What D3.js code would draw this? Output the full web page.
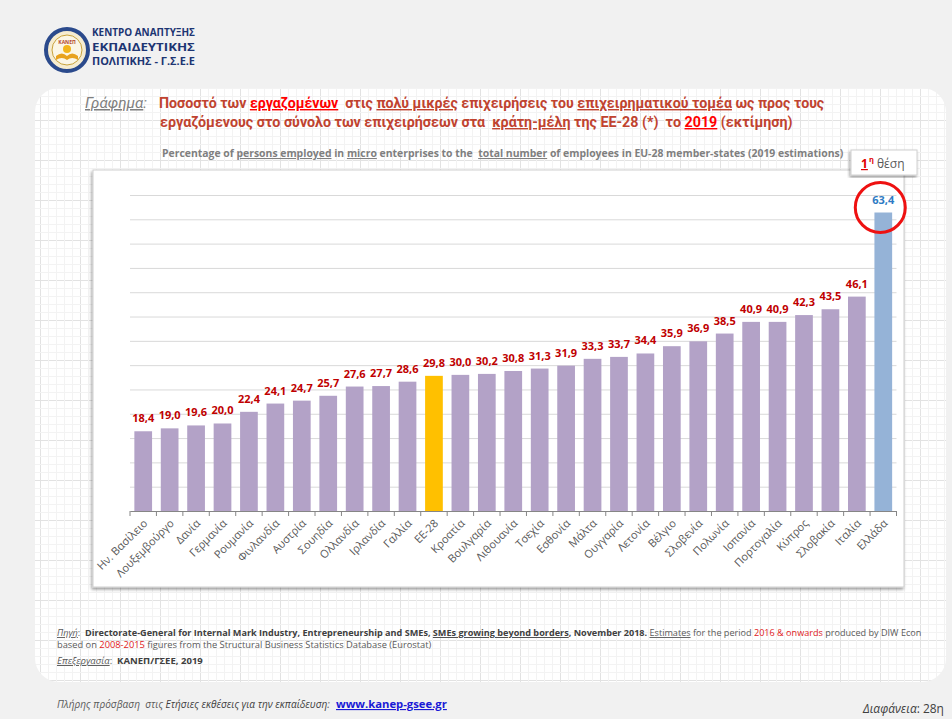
<!DOCTYPE html>
<meta charset="utf-8">
<script src="https://cdnjs.cloudflare.com/ajax/libs/d3/7.8.5/d3.min.js"></script>
<style>
body { margin: 0; background: #f1f1f1; }
svg { display: block; font-family: "Open Sans", "Noto Sans", sans-serif; }
</style>
<body>
<script>

var countries = ["Ην. Βασίλειο", "Λουξεμβούργο", "Δανία", "Γερμανία", "Ρουμανία", "Φινλανδία",
                 "Αυστρία", "Σουηδία", "Ολλανδία", "Ιρλανδία", "Γαλλία", "ΕΕ-28", "Κροατία",
                 "Βουλγαρία", "Λιθουανία", "Τσεχία", "Εσθονία", "Μάλτα", "Ουγγαρία", "Λετονία",
                 "Βέλγιο", "Σλοβενία", "Πολωνία", "Ισπανία", "Πορτογαλία", "Κύπρος", "Σλοβακία",
                 "Ιταλία", "Ελλάδα"];
var shares = [18.4, 19.0, 19.6, 20.0, 22.4, 24.1, 24.7, 25.7, 27.6, 27.7, 28.6, 29.8, 30.0,
              30.2, 30.8, 31.3, 31.9, 33.3, 33.7, 34.4, 35.9, 36.9, 38.5, 40.9, 40.9, 42.3, 43.5,
              46.1, 63.4];
var gridValues = [2, 7, 12, 17, 22, 27, 32, 37, 42, 47, 52, 57, 62, 67];

var euKey = "ΕΕ-28", greeceKey = "Ελλάδα";

var width = 952, height = 719;

var svg = d3.select("body").append("svg")
    .attr("width", width)
    .attr("height", height);

var defs = svg.append("defs");

// graph paper look of the slide panel
var pat = defs.append("pattern")
    .attr("id", "paper")
    .attr("patternUnits", "userSpaceOnUse")
    .attr("width", 40).attr("height", 40);
pat.append("rect").attr("width", 40).attr("height", 40).attr("fill", "#fff");
d3.range(0, 40, 8).forEach(function(p) {
  var c = p === 0 ? "#e2e2e2" : "#f3f3f3";
  pat.append("line").attr("x1", p + 0.5).attr("x2", p + 0.5).attr("y1", 0).attr("y2", 40).attr("stroke", c);
  pat.append("line").attr("y1", p + 0.5).attr("y2", p + 0.5).attr("x1", 0).attr("x2", 40).attr("stroke", c);
});

var shadow = defs.append("filter").attr("id", "shadow")
    .attr("x", "-5%").attr("y", "-5%").attr("width", "110%").attr("height", "115%");
shadow.append("feDropShadow")
    .attr("dx", -1).attr("dy", 2).attr("stdDeviation", 1.5)
    .attr("flood-color", "#000").attr("flood-opacity", 0.4);

// panel + chart box
svg.append("rect")
    .attr("x", 35).attr("y", 88).attr("width", 911).attr("height", 594).attr("rx", 24)
    .attr("fill", "url(#paper)");

svg.append("rect")
    .attr("x", 93).attr("y", 170).attr("width", 811).attr("height", 417)
    .attr("fill", "#fff").attr("stroke", "#cfcfcf")
    .attr("filter", "url(#shadow)");

// logo
var logo = svg.append("g").attr("transform", "translate(67,50)");
logo.append("circle").attr("r", 21).attr("fill", "#f6ecd0").attr("stroke", "#2b4a8c").attr("stroke-width", 4);
logo.append("circle").attr("r", 15).attr("fill", "#fbf6e6").attr("stroke", "#c8a23c").attr("stroke-width", 1);
logo.append("path").attr("d", "M-11,6 Q-5,1 0,6 Q5,1 11,6 L11,10 Q5,6 0,10 Q-5,6 -11,10 Z").attr("fill", "#e8a21e");
logo.append("circle").attr("cy", -1).attr("r", 4).attr("fill", "#f2b51c");
logo.append("text").attr("y", -6).attr("text-anchor", "middle").style("font-size", "5px")
    .attr("fill", "#b3472c").style("font-weight", "bold").text("ΚΑΝΕΠ");

var logoText = ["ΚΕΝΤΡΟ ΑΝΑΠΤΥΞΗΣ", "ΕΚΠΑΙΔΕΥΤΙΚΗΣ", "ΠΟΛΙΤΙΚΗΣ - Γ.Σ.Ε.Ε"];
logoText.forEach(function(t, i) {
  svg.append("text")
      .attr("x", 92).attr("y", 36 + i * 14.5)
      .attr("textLength", 103).attr("lengthAdjust", "spacingAndGlyphs")
      .style("font-size", "11px").style("font-weight", "bold")
      .attr("fill", "#1d3573")
      .text(t);
});

// rich text helper: parts are [text, flags, colour]
// the font size is scaled so the line spans the wanted width
function rich(x0, y0, size, len, color, parts, family) {
  var t = svg.append("text")
      .attr("x", x0).attr("y", y0)
      .style("font-size", size + "px")
      .style("white-space", "pre")
      .attr("fill", color);
  if (family) t.style("font-family", family);
  parts.forEach(function(p) {
    var s = t.append("tspan").text(p[0]);
    var f = p[1] || "";
    if (f.indexOf("b") >= 0) s.style("font-weight", "bold");
    if (f.indexOf("i") >= 0) s.style("font-style", "italic");
    if (f.indexOf("u") >= 0) s.style("text-decoration", "underline");
    if (p[2]) s.attr("fill", p[2]);
  });
  if (len) {
    var natural = t.node().getComputedTextLength();
    t.style("font-size", (size * len / natural) + "px");
  }
  return t;
}

var titleCol = "#c0432f", hot = "#ff0000";
var titleFont = "Roboto, 'Open Sans', sans-serif";

rich(85, 108, 14, 62, "#7f7f7f", [["Γράφημα", "iu"], [":", "i"]], titleFont);
rich(159, 108, 14, 666, titleCol, [
  ["Ποσοστό των ", "b"], ["εργαζομένων", "bu", hot], ["  στις ", "b"],
  ["πολύ μικρές", "bu"], [" επιχειρήσεις του ", "b"], ["επιχειρηματικού τομέα", "bu"],
  [" ως προς τους", "b"]
], titleFont);
rich(160, 127, 14, 633, titleCol, [
  ["εργαζόμενους στο σύνολο των επιχειρήσεων στα  ", "b"], ["κράτη-μέλη", "bu"],
  [" της ΕΕ-28 (*)  το ", "b"], ["2019", "bu", hot], [" (εκτίμηση)", "b"]
], titleFont);

// sized so it ends just before the callout box
rich(162, 157, 11.5, 682, "#7f7f7f", [
  ["Percentage of ", "b"], ["persons employed", "bu"], [" in ", "b"], ["micro", "bu"],
  [" enterprises to the  ", "b"], ["total number", "bu"],
  [" of employees in EU-28 member-states (2019 estimations)", "b"]
]);

// scales
var x = d3.scaleBand().domain(countries).range([130, 896.5]).paddingInner(0.33).paddingOuter(0.165);
var y = d3.scaleLinear().domain([gridValues[0], gridValues[gridValues.length - 1]]).range([511, 195]);

// gridlines
var grid = svg.append("g")
    .attr("transform", "translate(" + x.range()[0] + ",0)")
    .call(d3.axisLeft(y).tickValues(gridValues).tickSize(-(x.range()[1] - x.range()[0])).tickFormat(""));
grid.select(".domain").remove();
grid.selectAll("line").attr("stroke", "#d9d9d9");

// bars
function barColor(name) {
  if (name === euKey) return "#ffc000";
  if (name === greeceKey) return "#95b3d7";
  return "#b3a2c7";
}

svg.selectAll(".bar")
    .data(shares)
    .enter().append("rect")
    .attr("class", "bar")
    .attr("x", function(d, i) { return x(countries[i]); })
    .attr("width", x.bandwidth())
    .attr("y", function(d) { return y(d); })
    .attr("height", function(d) { return y(gridValues[0]) - y(d); })
    .attr("fill", function(d, i) { return barColor(countries[i]); });

// x axis
var xAxis = svg.append("g")
    .attr("transform", "translate(0," + y(gridValues[0]) + ")")
    .call(d3.axisBottom(x).tickSize(0));
xAxis.select(".domain").attr("stroke", "#868686");
xAxis.selectAll(".edge")
    .data(d3.range(countries.length + 1))
    .enter().append("line")
    .attr("x1", function(i) { return x.range()[0] + i * x.step(); })
    .attr("x2", function(i) { return x.range()[0] + i * x.step(); })
    .attr("y1", 0).attr("y2", 5)
    .attr("stroke", "#868686");
xAxis.selectAll(".tick text")
    .attr("x", 0).attr("y", 0).attr("dy", 0)
    .attr("transform", "translate(5,13) rotate(-45)")
    .style("text-anchor", "end")
    .style("font-family", "'Open Sans', sans-serif")
    .style("font-size", "11px")
    .attr("fill", "#595959");

// value labels
var fmt = d3.format(".1f");
svg.selectAll(".val")
    .data(shares)
    .enter().append("text")
    .attr("x", function(d, i) { return x(countries[i]) + x.bandwidth() / 2; })
    .attr("y", function(d) { return y(d) - 9; })
    .attr("text-anchor", "middle")
    .style("font-size", "11px")
    .style("font-weight", "bold")
    .attr("fill", function(d, i) { return countries[i] === greeceKey ? "#2e7bc4" : "#c00000"; })
    .text(function(d) { return fmt(d).replace(".", ","); });

// highlight circle around Greece
var gx = x(greeceKey) + x.bandwidth() / 2 - 3;
var gy = y(shares[countries.indexOf(greeceKey)]) - 5;
svg.append("circle")
    .attr("cx", gx).attr("cy", gy).attr("r", 25)
    .attr("fill", "none").attr("stroke", "#ee1111").attr("stroke-width", 3);

// "1η θέση" callout
svg.append("rect")
    .attr("x", 851).attr("y", 150).attr("width", 66).attr("height", 25)
    .attr("fill", "#fff").attr("stroke", "#d0d0d0")
    .attr("filter", "url(#shadow)");
svg.append("text").attr("x", 861).attr("y", 168)
    .style("font-size", "12px").style("font-weight", "bold").style("text-decoration", "underline")
    .attr("fill", "#e00000").text("1");
svg.append("text").attr("x", 869).attr("y", 162)
    .style("font-size", "7.5px").style("font-weight", "bold")
    .attr("fill", "#e00000").text("η");
svg.append("text").attr("x", 877).attr("y", 168)
    .style("font-size", "12px").attr("fill", "#595959").text("θέση");

// source notes
rich(57, 636, 9.5, 865, "#595959", [
  ["Πηγή", "iu"], [":  "], ["Directorate-General for Internal Mark Industry, Entrepreneurship and SMEs, ", "b", "#404040"],
  ["SMEs growing beyond borders", "bu", "#404040"], [", November 2018.", "b", "#404040"], [" "],
  ["Estimates", "u"], [" for the period "], ["2016 & onwards", "", "#e0201b"], [" produced by DIW Econ"]
]);
rich(57, 648, 9.5, 375, "#595959", [
  ["based on "], ["2008-2015", "", "#e0201b"], [" figures from the Structural Business Statistics Database (Eurostat)"]
]);
rich(57, 664, 9.5, 146, "#595959", [
  ["Επεξεργασία", "iu"], [":  "], ["ΚΑΝΕΠ/ΓΣΕΕ, 2019", "b", "#404040"]
]);

rich(57, 708, 9.5, 273, "#595959", [
  ["Πλήρης πρόσβαση  στις ", "i"], ["Ετήσιες εκθέσεις για την εκπαίδευση", "i", "#404040"], [":", "i"]
]);
rich(336, 708, 12.5, 111, "#1a1ad6", [["www.kanep-gsee.gr", "bu"]]);
rich(863, 713, 11, 81, "#404040", [["Διαφάνεια", "i"], [": 28η"]]);

</script>
</body>
